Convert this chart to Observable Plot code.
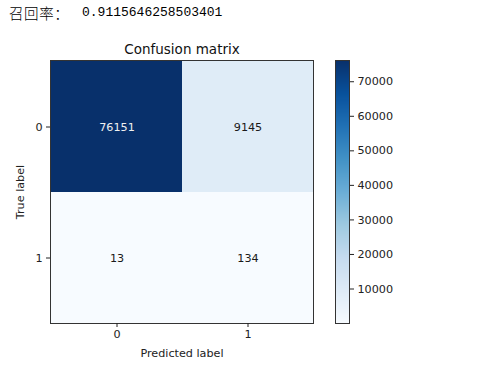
<!DOCTYPE html>
<html>
<head>
<meta charset="utf-8">
<script src="https://cdn.jsdelivr.net/npm/d3@7"></script>
<script src="https://cdn.jsdelivr.net/npm/@observablehq/plot@0.6"></script>
<style>
  html, body { margin: 0; padding: 0; background: #fff; }
  #wrap { position: relative; width: 496px; height: 365px; overflow: hidden; }
  #wrap > * { position: absolute; }
  .hdr-cjk { font-family: "Noto Sans CJK SC", sans-serif; font-size: 14.5px; font-weight: 300; color: #000; left: 9px; top: 2px; letter-spacing: 0.6px; }
  .hdr-num { font-family: "Liberation Mono", "DejaVu Sans Mono", monospace; font-size: 13px; color: #000; left: 82px; top: 5px; }
  svg { font-family: "DejaVu Sans", sans-serif; }
</style>
</head>
<body>
<div id="wrap"></div>
<script>
// ---- data ----
const headerLabel = "召回率：";
const headerValue = "0.9115646258503401";
const chartTitle = "Confusion matrix";
const predictedLabels = [0, 1];
const trueLabels = [0, 1];
const counts = [
  [76151, 9145],
  [13, 134]
];
const colorbarTicks = [10000, 20000, 30000, 40000, 50000, 60000, 70000];
const bluesColors = ["#f7fbff", "#deebf7", "#c6dbef", "#9ecae1", "#6baed6", "#4292c6", "#2171b5", "#08519c", "#08306b"];

// ---- build table ----
const cells = [];
trueLabels.forEach((t, i) => predictedLabels.forEach((p, j) => cells.push({ t, p, value: counts[i][j] })));
const extent = d3.extent(cells, d => d.value);
const thresh = extent[1] / 2;
const colorScale = {
  type: "linear",
  domain: extent,
  interpolate: d3.piecewise(d3.interpolateRgb, bluesColors)
};

const wrap = document.getElementById("wrap");

const h1 = document.createElement("div");
h1.className = "hdr-cjk";
h1.textContent = headerLabel;
wrap.appendChild(h1);
const h2 = document.createElement("div");
h2.className = "hdr-num";
h2.textContent = headerValue;
wrap.appendChild(h2);

// ---- main heatmap ----
const main = Plot.plot({
  width: 330,
  height: 365,
  marginLeft: 50,
  marginRight: 17,
  marginTop: 60,
  marginBottom: 42,
  style: { fontSize: "11.2px", fontFamily: "DejaVu Sans, sans-serif", color: "#222", background: "transparent" },
  x: { type: "band", domain: predictedLabels, padding: 0 },
  y: { type: "band", domain: trueLabels, padding: 0 },
  color: colorScale,
  marks: [
    Plot.cell(cells, { x: "p", y: "t", fill: "value", inset: 0 }),
    Plot.text(cells, {
      x: "p", y: "t", text: d => String(d.value),
      fill: d => d.value > thresh ? "#f0f0f0" : "#1a1a1a",
      fontSize: 11.2
    }),
    Plot.frame({ stroke: "#333", strokeWidth: 1 }),
    Plot.axisX({ tickSize: 4, tickPadding: 3, label: "Predicted label", labelAnchor: "center", labelOffset: 33 }),
    Plot.axisY({ tickSize: 4, tickPadding: 4, label: "True label", labelAnchor: "center", labelOffset: 34 }),
    Plot.text([chartTitle], { frameAnchor: "top", dy: -11, lineAnchor: "middle", fontSize: 13.5, fill: "#111" })
  ]
});
main.style.left = "0px";
main.style.top = "0px";
wrap.appendChild(main);

// ---- colorbar ----
const cbar = Plot.plot({
  width: 430,
  height: 365,
  marginLeft: 335,
  marginRight: 81,
  marginTop: 60,
  marginBottom: 42,
  style: { fontSize: "11.2px", fontFamily: "DejaVu Sans, sans-serif", color: "#222", background: "transparent" },
  x: { domain: [0, 1], axis: null },
  y: { domain: extent },
  color: colorScale,
  marks: [
    Plot.raster({ fill: (x, y) => y, x1: 0, x2: 1, y1: extent[0], y2: extent[1], width: 1, height: 263 }),
    Plot.frame({ stroke: "#333", strokeWidth: 1 }),
    Plot.axisY({ anchor: "right", ticks: colorbarTicks, tickFormat: d => String(d), tickSize: 4, tickPadding: 4, label: null })
  ]
});
cbar.style.left = "0px";
cbar.style.top = "0px";
wrap.appendChild(cbar);
</script>
</body>
</html>
